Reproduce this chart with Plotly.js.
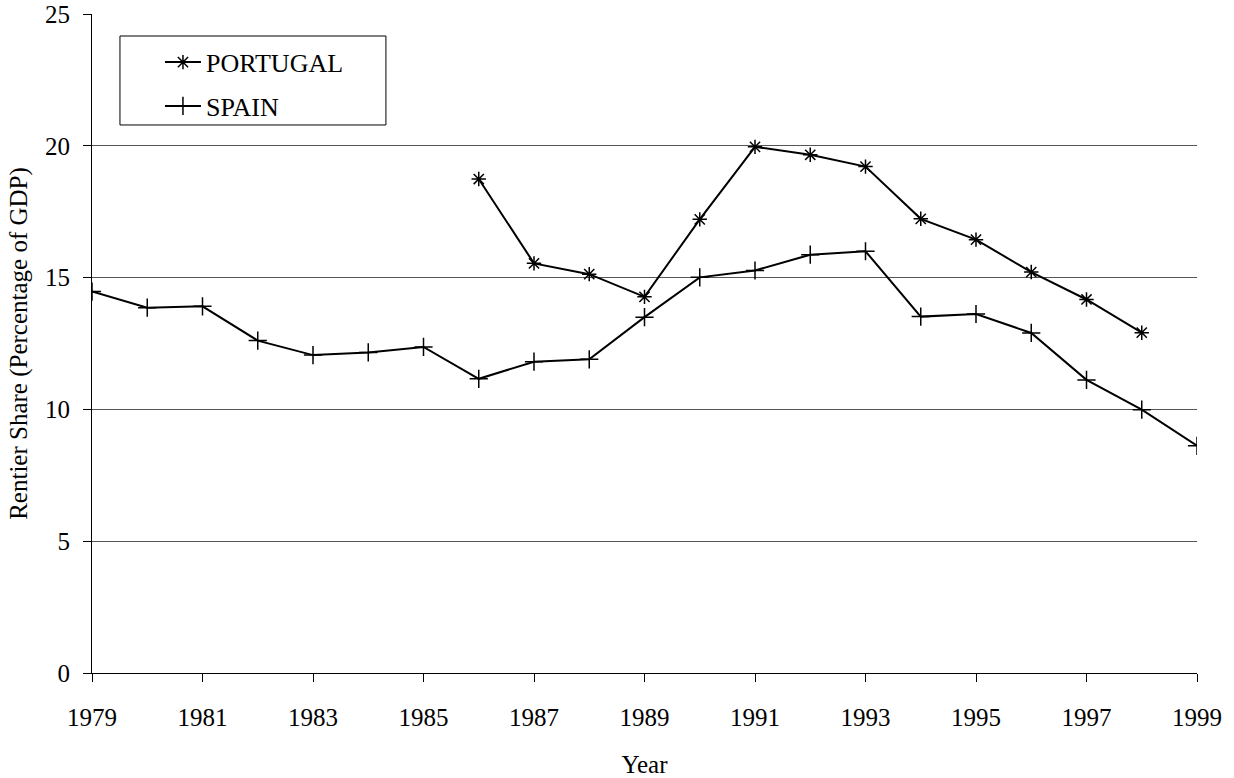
<!DOCTYPE html>
<html>
<head>
<meta charset="utf-8">
<script src="https://cdn.plot.ly/plotly-3.0.1.min.js"></script>
<style>html,body{margin:0;padding:0;background:#fff;}#chart{width:1234px;height:778px;}</style>
</head>
<body>
<div id="chart"></div>
<script>
const years = [1979,1980,1981,1982,1983,1984,1985,1986,1987,1988,1989,1990,1991,1992,1993,1994,1995,1996,1997,1998,1999];
const portugalYears = [1986,1987,1988,1989,1990,1991,1992,1993,1994,1995,1996,1997,1998];
const portugal = [18.74,15.54,15.13,14.27,17.21,19.96,19.66,19.21,17.23,16.44,15.21,14.17,12.91];
const spain = [14.47,13.86,13.91,12.61,12.06,12.16,12.37,11.16,11.81,11.90,13.50,15.01,15.27,15.87,16.0,13.52,13.62,12.90,11.12,9.99,8.62];
const xTicks = [1979,1981,1983,1985,1987,1989,1991,1993,1995,1997,1999];
const yTicks = [0,5,10,15,20,25];

const font = "Liberation Serif, Times New Roman, serif";
const traces = [
  {x: portugalYears, y: portugal, name: 'PORTUGAL', type: 'scatter', mode: 'lines+markers', legendgroup: 'p',
   line: {color: '#000', width: 2}, marker: {symbol: 'asterisk-open', size: 12, color: '#000', line: {color: '#000', width: 1.5}}},
  {x: years, y: spain, name: 'SPAIN', type: 'scatter', mode: 'lines+markers', legendgroup: 's',
   line: {color: '#000', width: 2}, marker: {symbol: 'cross-thin-open', size: 13, color: '#000', line: {color: '#000', width: 1.5}}}
];
const layout = {
  width: 1234, height: 778,
  margin: {l: 92, r: 37, t: 14, b: 105},
  paper_bgcolor: '#fff', plot_bgcolor: '#fff',
  font: {family: font, size: 25, color: '#000'},
  showlegend: true,
  legend: {x: 0.0615, y: 0.9625, xanchor: 'left', yanchor: 'top', bgcolor: 'rgba(0,0,0,0)', borderwidth: 0,
           font: {family: font, size: 26, color: '#000'}, tracegroupgap: 7, itemwidth: 36},
  shapes: [{type: 'rect', xref: 'paper', yref: 'paper', x0: 0.0253, x1: 0.2660, y0: 0.8316, y1: 0.9666,
            line: {color: '#000', width: 1}, fillcolor: 'rgba(0,0,0,0)', layer: 'above'}],
  xaxis: {range: [1979, 1999], tickmode: 'array', tickvals: xTicks, ticktext: xTicks.map(String),
          ticks: 'outside', ticklen: 8, tickcolor: '#000', tickwidth: 1,
          showline: true, linecolor: '#000', linewidth: 1, showgrid: false, zeroline: false,
          ticklabelstandoff: 14, tickfont: {family: font, size: 25},
          title: {text: 'Year', standoff: 26, font: {family: font, size: 25}}},
  yaxis: {range: [0, 25], tickmode: 'array', tickvals: yTicks, ticktext: yTicks.map(String),
          ticks: 'outside', ticklen: 8, tickcolor: '#000', tickwidth: 1,
          showline: true, linecolor: '#000', linewidth: 1, showgrid: true, gridcolor: '#555', gridwidth: 1, zeroline: false,
          ticklabelstandoff: 8, tickfont: {family: font, size: 25},
          title: {text: 'Rentier Share (Percentage of GDP)', standoff: 10, font: {family: font, size: 25}}}
};
Plotly.newPlot('chart', traces, layout, {displayModeBar: false, staticPlot: true});
</script>
</body>
</html>
